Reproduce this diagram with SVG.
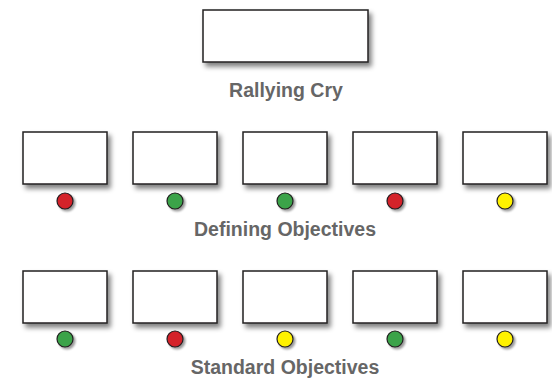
<svg xmlns="http://www.w3.org/2000/svg" width="552" height="378" viewBox="0 0 552 378">
<style>
.box{fill:#fff;stroke:#231f20;stroke-width:1.5;filter:url(#sh)}
.dot{stroke:#231f20;stroke-width:1.2;filter:url(#sh2)}
.red{fill:#d42029}.green{fill:#3aa348}.yellow{fill:#fff200}
.lbl{font-family:"Liberation Sans",Arial,sans-serif;font-weight:bold;font-size:19.5px;fill:#666;text-anchor:middle}
</style>
<defs>
<filter id="sh" x="-20%" y="-20%" width="150%" height="160%">
<feGaussianBlur in="SourceAlpha" stdDeviation="2.5"/>
<feOffset dx="3" dy="4" result="b"/>
<feComponentTransfer><feFuncA type="linear" slope="0.5"/></feComponentTransfer>
<feMerge><feMergeNode/><feMergeNode in="SourceGraphic"/></feMerge>
</filter>
<filter id="sh2" x="-50%" y="-50%" width="200%" height="200%">
<feGaussianBlur in="SourceAlpha" stdDeviation="1.2"/>
<feOffset dx="1.5" dy="2"/>
<feComponentTransfer><feFuncA type="linear" slope="0.4"/></feComponentTransfer>
<feMerge><feMergeNode/><feMergeNode in="SourceGraphic"/></feMerge>
</filter>
</defs>
<g id="rallying-cry">
<rect class="box" x="203" y="10" width="165" height="52"/>
<text class="lbl" x="286" y="97">Rallying Cry</text>
</g>
<g id="defining-objectives">
<g id="do1"><rect class="box" x="23" y="132" width="84" height="52"/><circle class="dot red" cx="65" cy="201" r="8"/></g>
<g id="do2"><rect class="box" x="133" y="132" width="84" height="52"/><circle class="dot green" cx="175" cy="201" r="8"/></g>
<g id="do3"><rect class="box" x="243" y="132" width="84" height="52"/><circle class="dot green" cx="285" cy="201" r="8"/></g>
<g id="do4"><rect class="box" x="353" y="132" width="84" height="52"/><circle class="dot red" cx="395" cy="201" r="8"/></g>
<g id="do5"><rect class="box" x="463" y="132" width="84" height="52"/><circle class="dot yellow" cx="505" cy="201" r="8"/></g>
<text class="lbl" x="285" y="236">Defining Objectives</text>
</g>
<g id="standard-objectives">
<g id="so1"><rect class="box" x="23" y="271" width="84" height="52"/><circle class="dot green" cx="65" cy="339" r="8"/></g>
<g id="so2"><rect class="box" x="133" y="271" width="84" height="52"/><circle class="dot red" cx="175" cy="339" r="8"/></g>
<g id="so3"><rect class="box" x="243" y="271" width="84" height="52"/><circle class="dot yellow" cx="285" cy="339" r="8"/></g>
<g id="so4"><rect class="box" x="353" y="271" width="84" height="52"/><circle class="dot green" cx="395" cy="339" r="8"/></g>
<g id="so5"><rect class="box" x="463" y="271" width="84" height="52"/><circle class="dot yellow" cx="505" cy="339" r="8"/></g>
<text class="lbl" x="285" y="374">Standard Objectives</text>
</g>
<g id="connectors"/>
</svg>
